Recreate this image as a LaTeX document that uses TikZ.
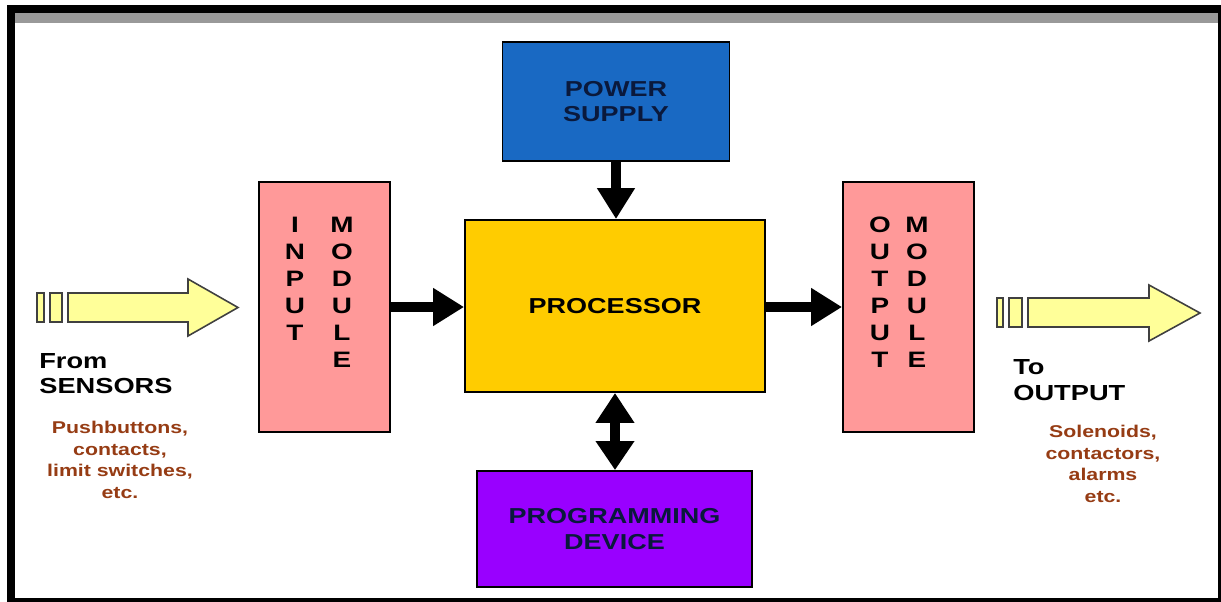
\documentclass[tikz,border=0pt]{standalone}
\usepackage{fontspec}
\setmainfont{Liberation Sans}[FakeStretch=1.25]
\usepackage{xcolor}
\usetikzlibrary{arrows.meta}

\definecolor{modpink}{HTML}{FF9999}
\definecolor{procgold}{HTML}{FFCC00}
\definecolor{powerblue}{RGB}{25,105,195}
\definecolor{progpurple}{HTML}{9900FF}
\definecolor{sigyellow}{HTML}{FFFF99}
\definecolor{notebrown}{RGB}{150,60,20}
\definecolor{darknavy}{RGB}{10,25,60}

\begin{document}
\begin{tikzpicture}[x=0.02cm, y=-0.02cm,
    block/.style={draw=black, line width=1.1pt, inner sep=0pt, align=center,
        font=\fontsize{12.3}{14.5}\selectfont\bfseries},
    letters/.style={inner sep=0pt, anchor=north, align=center,
        font=\fontsize{12.7}{15.3}\selectfont\bfseries},
    sidelabel/.style={inner sep=0pt, anchor=west, align=left,
        font=\fontsize{12.4}{14.5}\selectfont\bfseries},
    note/.style={inner sep=0pt, align=center, text=notebrown,
        font=\fontsize{9.7}{12.4}\selectfont\bfseries},
    flow/.style={line width=0.2cm, -{Triangle[width=0.72cm, length=0.62cm]}},
    sigarrow/.style={fill=sigyellow, draw=black!75, line width=0.9pt}]
            \useasboundingbox (0,0) rectangle (1221,602);
            % frame
            \fill[black] (7,5) rectangle (1221,602);
            \fill[white] (15,13) rectangle (1218,598);
            \fill[black!40] (15,13) rectangle (1218,23);

            % blocks
            \node[block, fill=powerblue, text=darknavy, minimum width=4.54cm, minimum height=2.38cm] (power) at (616,101.5) {POWER\\SUPPLY};
            \node[block, fill=procgold, minimum width=6cm, minimum height=3.44cm] (proc) at (615,306) {PROCESSOR};
            \node[block, fill=modpink, minimum width=2.62cm, minimum height=5cm] (inmod) at (324.5,307) {};
            \node[block, fill=modpink, minimum width=2.62cm, minimum height=5cm] (outmod) at (908.5,307) {};
            \node[block, fill=progpurple, text=darknavy, minimum width=5.5cm, minimum height=2.32cm, font=\fontsize{12.3}{15.3}\selectfont\bfseries] (prog) at (614.5,529) {PROGRAMMING\\DEVICE};

            % module letters
            \node[letters] (incolA) at (295,217) {I\\N\\P\\U\\T};
            \node[letters] (incolB) at (342,217) {M\\O\\D\\U\\L\\E};
            \node[letters] (outcolA) at (880,217) {O\\U\\T\\P\\U\\T};
            \node[letters] (outcolB) at (917,217) {M\\O\\D\\U\\L\\E};

            % connections
            \draw[flow] (power.south) -- (power.south |- proc.north);
            \draw[flow] (inmod.east) -- (inmod.east -| proc.west);
            \draw[flow] (proc.east |- outmod.west) -- (outmod.west);
            \draw[line width=0.2cm, {Triangle[width=0.74cm, length=0.6cm]}-{Triangle[width=0.74cm, length=0.58cm]}] (proc.south) -- (proc.south |- prog.north);

            % signal arrows
            \filldraw[sigarrow] (68,293) -- (188,293) -- (188,279) -- (238,307.5) -- (188,336) -- (188,322) -- (68,322) -- cycle;
            \filldraw[sigarrow] (37,293) rectangle (44,322);
            \filldraw[sigarrow] (50,293) rectangle (62,322);
            \filldraw[sigarrow] (1028,298) -- (1149,298) -- (1149,285) -- (1200,313) -- (1149,341) -- (1149,327) -- (1028,327) -- cycle;
            \filldraw[sigarrow] (997,298) rectangle (1003,327);
            \filldraw[sigarrow] (1009,298) rectangle (1022,327);

            % side texts
            \node[sidelabel] (fromlbl) at (39,373.5) {From\\SENSORS};
            \node[note] (innote) at (120,460) {Pushbuttons,\\contacts,\\limit switches,\\etc.};
            \node[sidelabel] (tolbl) at (1013,380) {To\\OUTPUT};
            \node[note] (outnote) at (1103,464) {Solenoids,\\contactors,\\alarms\\etc.};
            \end{tikzpicture}
\end{document}
